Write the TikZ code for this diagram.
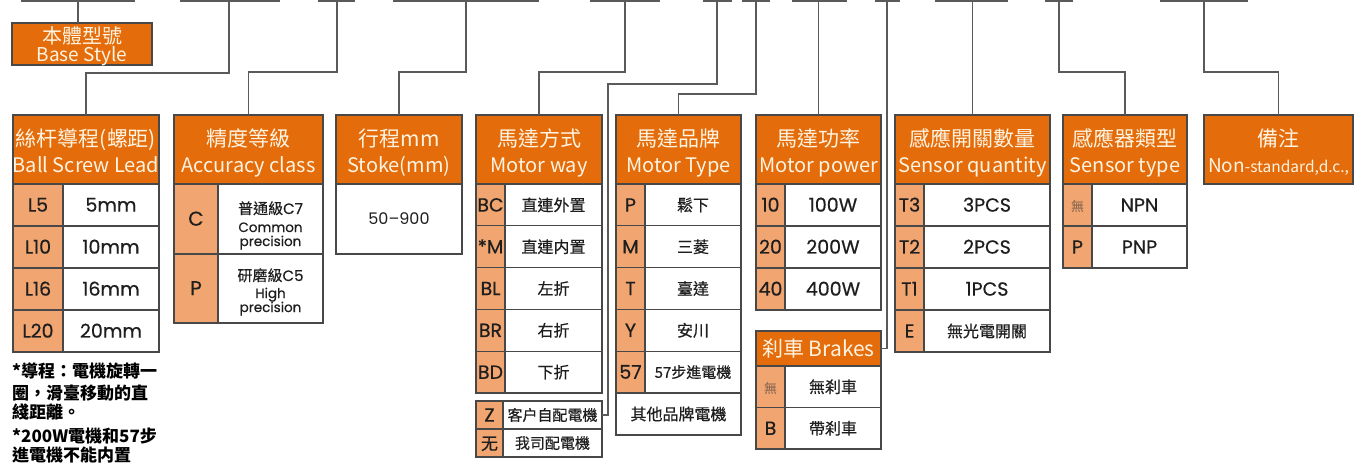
\documentclass[tikz,border=0pt]{standalone}
\usepackage{fontspec}
\setmainfont{Poppins}
\newfontfamily\cjk{Noto Sans CJK TC}
\newfontfamily\pmed[FakeBold=0.5]{Poppins}
\newfontfamily\cjkm[FakeBold=0.4]{Noto Sans CJK TC}
\usetikzlibrary{calc}
\definecolor{hdrorange}{RGB}{228,108,10}
\definecolor{keyorange}{RGB}{241,165,112}
\definecolor{bordergray}{RGB}{72,72,72}
\definecolor{conngray}{RGB}{90,90,90}
\definecolor{hdrtext}{RGB}{255,244,226}
\definecolor{txtdark}{RGB}{30,30,30}
\definecolor{wutxt}{RGB}{125,95,75}
\newcommand{\hdrbox}[5]{%
  \node[hdr,minimum width=#3pt,minimum height=69pt] (#1) at (#2,115) {};
  \node[hzh] (#1zh) at ($(#1.north)+(0,31.5)$) {#4};
  \node[hen] (#1en) at ($(#1.north)+(0,57)$) {#5};
}
\newcommand{\cellrow}[9]{%
  \node[keycell,minimum width=#4pt,minimum height=#6pt] (#1k) at (#2,#3) {#7};
  \node[valcell,#8,minimum width=#5pt,minimum height=#6pt] (#1v) at (#2+#4,#3) {#9};
}
\begin{document}
\begin{tikzpicture}[x=1pt,y=-1pt,
  box/.style={draw=bordergray,line width=1.3pt,inner sep=0pt,outer sep=0pt,anchor=north west},
  hdr/.style={box,fill=hdrorange},
  keycell/.style={box,fill=keyorange,text=txtdark,font=\pmed\fontsize{19}{19}\selectfont,text height=13.3pt,text depth=0pt},
  valcell/.style={box,fill=white,text=txtdark},
  valL/.style={font=\pmed\fontsize{19}{19}\selectfont,text height=13.3pt,text depth=0pt},
  valC/.style={font=\cjkm\fontsize{16}{16}\selectfont,text height=12.2pt,text depth=0pt},
  valCs/.style={font=\cjkm\fontsize{15}{15}\selectfont,text height=11.4pt,text depth=0pt},
  hzh/.style={text=hdrtext,font=\cjk\fontsize{21}{21}\selectfont,anchor=base,inner sep=0pt},
  hen/.style={text=hdrtext,font=\cjk\fontsize{20}{20}\selectfont,anchor=base,inner sep=0pt},
  conn/.style={draw=conngray,line width=1.3pt},
  topseg/.style={draw=conngray,line width=2.4pt},
  note/.style={font=\cjk\bfseries\fontsize{17}{17}\selectfont,anchor=base west,inner sep=0pt,text=black},
  small/.style={anchor=base,inner sep=0pt,text=txtdark}
]
\fill[white] (0,0) rectangle (1355,463);
\useasboundingbox (0,0) rectangle (1355,463);

% top underline segments (cut off at the top edge)
\foreach \a/\b in {21/135,180/280,318/355,393/539,590/660,703/732,742/770,792/847,875/900,935/1008,1045/1073,1160/1248}
  \draw[topseg] (\a,1) -- (\b,1);

\coordinate (top1) at (78,0);
\coordinate (top2) at (229,0);
\coordinate (top3) at (337,0);
\coordinate (top4) at (466,0);
\coordinate (top5) at (625,0);
\coordinate (top6) at (717,0);
\coordinate (top7) at (756,0);
\coordinate (top8) at (818.5,0);
\coordinate (top9) at (887,0);
\coordinate (top10) at (972.5,0);
\coordinate (top11) at (1059,0);
\coordinate (top12) at (1204,0);

% base style
\node[hdr,minimum width=140pt,minimum height=42pt] (base) at (12,23) {};
\node[hzh,font=\cjk\fontsize{20}{20}\selectfont] (basezh) at (82,43.5) {本體型號};
\node[hen,font=\cjk\fontsize{19}{19}\selectfont] (baseen) at (82,61.5) {Base Style};

% headers
\hdrbox{ball}{13}{146}{絲杆導程(螺距)}{Ball Screw Lead}
\hdrbox{acc}{174}{149}{精度等級}{Accuracy class}
\hdrbox{stk}{336}{126}{行程mm}{Stoke(mm)}
\hdrbox{way}{476}{126}{馬達方式}{Motor way}
\hdrbox{typ}{616}{125}{馬達品牌}{Motor Type}
\hdrbox{pow}{756}{125}{馬達功率}{Motor power}
\hdrbox{sq}{895}{155}{感應開關數量}{Sensor quantity}
\hdrbox{st}{1063}{124}{感應器類型}{Sensor type}
\hdrbox{rem}{1204}{149}{備注}{{\fontsize{19}{19}\selectfont Non}{\fontsize{15.5}{15.5}\selectfont -standard,d.c.,}}

% ball screw lead
\cellrow{b1}{13}{184}{50}{96}{42}{L5}{valL}{5mm}
\cellrow{b2}{13}{226}{50}{96}{42}{L10}{valL}{10mm}
\cellrow{b3}{13}{268}{50}{96}{42}{L16}{valL}{16mm}
\cellrow{b4}{13}{310}{50}{96}{42}{L20}{valL}{20mm}

% accuracy
\cellrow{a1}{174}{184}{44}{105}{70}{\fontsize{20}{20}\selectfont C}{valL}{}
\cellrow{a2}{174}{254}{44}{105}{69}{\fontsize{20}{20}\selectfont P}{valL}{}
\node[small] (a1t1) at (270.5,214) {{\cjkm\fontsize{15}{15}\selectfont 普通級}{\pmed\fontsize{15}{15}\selectfont C7}};
\node[small,font=\pmed\fontsize{13.5}{13.5}\selectfont] (a1t2) at (270.5,232) {Common};
\node[small,font=\pmed\fontsize{13.5}{13.5}\selectfont] (a1t3) at (270.5,246) {precision};
\node[small] (a2t1) at (270.5,281) {{\cjkm\fontsize{15}{15}\selectfont 研磨級}{\pmed\fontsize{15}{15}\selectfont C5}};
\node[small,font=\pmed\fontsize{13.5}{13.5}\selectfont] (a2t2) at (270.5,298) {High};
\node[small,font=\pmed\fontsize{13.5}{13.5}\selectfont] (a2t3) at (270.5,312) {precision};

% stroke
\node[valcell,font=\fontsize{16}{16}\selectfont,text height=11.2pt,text depth=0pt,minimum width=126pt,minimum height=70pt] (stkb) at (336,184) {50–900};

% motor way
\cellrow{w1}{476}{184}{29}{97}{41.8}{BC}{valC}{直連外置}
\cellrow{w2}{476}{225.8}{29}{97}{41.8}{*M}{valC}{直連内置}
\cellrow{w3}{476}{267.6}{29}{97}{41.8}{BL}{valC}{左折}
\cellrow{w4}{476}{309.4}{29}{97}{41.8}{BR}{valC}{右折}
\cellrow{w5}{476}{351.2}{29}{97}{41.8}{BD}{valC}{下折}
\cellrow{z1}{476}{401}{27}{99}{28}{\fontsize{19}{19}\selectfont Z}{valCs}{客户自配電機}
\cellrow{z2}{476}{429}{27}{99}{28}{\cjkm\fontsize{17}{17}\selectfont 无}{valCs}{我司配電機}

% motor type
\cellrow{ty1}{616}{184}{29}{96}{41.8}{P}{valC}{鬆下}
\cellrow{ty2}{616}{225.8}{29}{96}{41.8}{M}{valC}{三菱}
\cellrow{ty3}{616}{267.6}{29}{96}{41.8}{T}{valC}{臺達}
\cellrow{ty4}{616}{309.4}{29}{96}{41.8}{Y}{valC}{安川}
\cellrow{ty5}{616}{351.2}{29}{96}{41.8}{57}{valCs}{57步進電機}
\node[valcell,valC,minimum width=125pt,minimum height=42pt] (tyo) at (616,393) {其他品牌電機};

% motor power
\cellrow{p1}{756}{184}{29}{96}{42}{10}{valL}{100W}
\cellrow{p2}{756}{226}{29}{96}{42}{20}{valL}{200W}
\cellrow{p3}{756}{268}{29}{96}{42}{40}{valL}{400W}

% brakes
\node[hdr,minimum width=125pt,minimum height=35pt,text=hdrtext,font=\cjk\fontsize{21}{21}\selectfont,text height=16pt,text depth=0pt] (brk) at (756,331) {刹車 Brakes};
\cellrow{br1}{756}{366}{29}{96}{41.5}{\cjk\fontsize{13}{13}\selectfont\color{wutxt}無}{valC}{無刹車}
\cellrow{br2}{756}{407.5}{29}{96}{41.5}{B}{valC}{帶刹車}

% sensor quantity
\cellrow{q1}{895}{184}{29}{126}{42}{T3}{valL}{3PCS}
\cellrow{q2}{895}{226}{29}{126}{42}{T2}{valL}{2PCS}
\cellrow{q3}{895}{268}{29}{126}{42}{T1}{valL}{1PCS}
\cellrow{q4}{895}{310}{29}{126}{42}{E}{valC}{無光電開關}

% sensor type
\cellrow{s1}{1063}{184}{29}{95}{42}{\cjk\fontsize{13}{13}\selectfont\color{wutxt}無}{valL}{NPN}
\cellrow{s2}{1063}{226}{29}{95}{42}{P}{valL}{PNP}

% connectors
\draw[conn] (top1) -- (top1 |- base.north);
\draw[conn] (top2) -- ++(0,73) -| (ball.north);
\draw[conn] (top3) -- ++(0,72) -| (acc.north);
\draw[conn] (top4) -- ++(0,72) -| (stk.north);
\draw[conn] (top5) -- ++(0,72) -| (way.north);
\draw[conn] (top6) -- ++(0,84) -| ([xshift=6pt]z1v.east) -- (z1v.east);
\draw[conn] (top7) -- ++(0,94) -| (typ.north);
\draw[conn] (top8) -- (pow.north);
\draw[conn] (top9) |- (brk.east);
\draw[conn] (top10) -- (sq.north);
\draw[conn] (top11) -- ++(0,72) -| (st.north);
\draw[conn] (top12) -- ++(0,72) -| (rem.north);

% notes
\node[note] (n1) at (12,377) {*導程：電機旋轉一};
\node[note] (n2) at (12,399) {圈，滑臺移動的直};
\node[note] (n3) at (12,418) {綫距離。};
\node[note] (n4) at (12,442) {*200W電機和57步};
\node[note] (n5) at (12,461) {進電機不能内置};
\end{tikzpicture}
\end{document}
